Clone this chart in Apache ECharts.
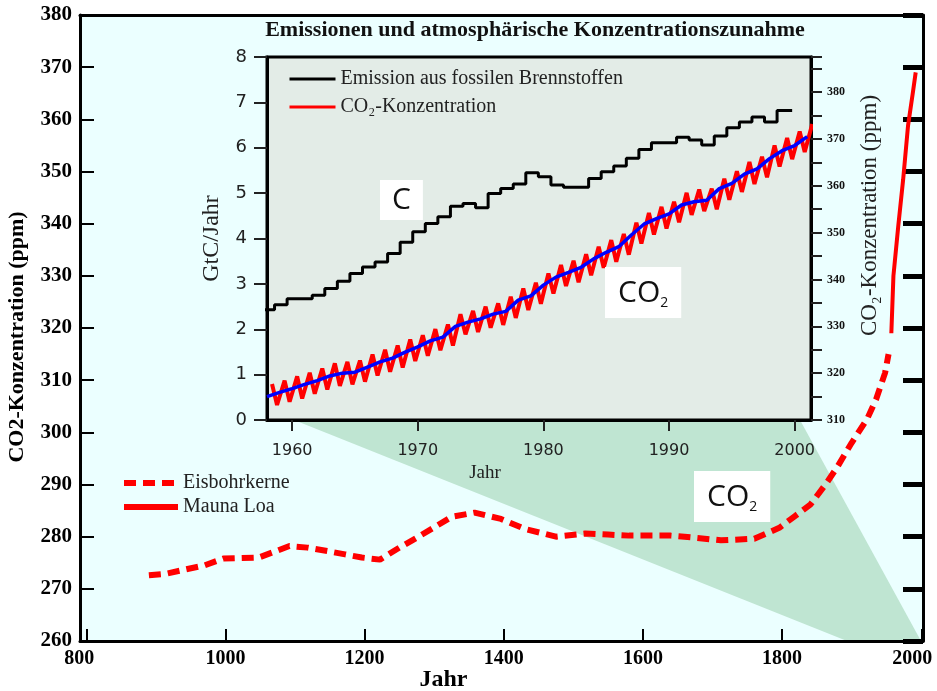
<!DOCTYPE html>
<html><head><meta charset="utf-8">
<script src="https://cdn.jsdelivr.net/npm/echarts@6/dist/echarts.min.js"></script>
<style>html,body{margin:0;padding:0;background:#fff}#c{width:937px;height:691px}</style>
</head><body><div id="c"></div><script>
// ---- Main chart: ice cores + Mauna Loa ----
const iceYears = [890, 915, 942, 970, 997, 1048, 1092, 1118, 1148, 1172, 1196, 1222, 1250, 1275, 1299, 1325, 1358, 1396, 1430, 1475, 1517, 1550, 1580, 1613, 1640, 1675, 1712, 1760, 1796, 1818, 1841, 1864, 1880, 1900, 1922, 1935, 1948, 1953];
const iceCO2 = [272.6, 272.9, 273.7, 274.5, 275.8, 276.0, 278.2, 277.9, 277.2, 276.6, 276.0, 275.6, 277.9, 279.8, 281.7, 283.8, 284.6, 283.4, 281.5, 280.0, 280.6, 280.4, 280.2, 280.2, 280.2, 279.8, 279.3, 279.6, 281.7, 283.9, 286.2, 290.3, 293.5, 298.0, 302.5, 306.3, 311.4, 315.0];
const mlYears = [1957, 1960, 1967, 1974, 1981, 1988, 1992];
const mlCO2 = [319.0, 330.0, 339.6, 348.5, 358.8, 365.2, 369.0];
const mainXTicks = [800, 1000, 1200, 1400, 1600, 1800, 2000];

// ---- Inset: emissions (GtC/Jahr), annual ----
const emisYears = [1958,1959,1960,1961,1962,1963,1964,1965,1966,1967,1968,1969,1970,1971,1972,1973,1974,1975,1976,1977,1978,1979,1980,1981,1982,1983,1984,1985,1986,1987,1988,1989,1990,1991,1992,1993,1994,1995,1996,1997,1998,1999];
const emisValues = [2.43,2.54,2.67,2.67,2.75,2.90,3.06,3.23,3.37,3.48,3.67,3.92,4.15,4.33,4.48,4.71,4.77,4.68,4.99,5.10,5.20,5.45,5.36,5.18,5.13,5.13,5.32,5.47,5.60,5.77,5.96,6.11,6.11,6.23,6.17,6.06,6.26,6.44,6.57,6.68,6.57,6.82];

// ---- Inset: CO2 concentration (ppm) ----
const trendYears = [1958,1959,1960,1961,1962,1963,1964,1965,1966,1967,1968,1969,1970,1971,1972,1973,1974,1975,1976,1977,1978,1979,1980,1981,1982,1983,1984,1985,1986,1987,1988,1989,1990,1991,1992,1993,1994,1995,1996,1997,1998,1999,2000,2001];
const trendValues = [315.0,315.9,316.7,317.6,318.4,319.4,320.0,320.2,321.3,322.4,323.2,324.5,325.6,326.9,327.7,330.0,330.9,331.6,332.6,333.2,335.6,336.5,338.8,340.5,341.5,342.6,344.4,345.8,347.0,349.5,351.8,353.0,354.0,355.9,356.6,356.9,359.4,360.5,362.5,363.6,365.8,367.5,368.6,370.5];
const seasonPeaks = [317.7,318.4,319.3,320.1,321.0,322.1,322.4,322.7,324.0,325.0,325.9,327.2,328.1,329.4,330.4,332.6,333.3,334.2,334.9,336.3,338.1,339.3,341.3,343.1,344.0,345.4,347.0,348.4,349.7,352.1,354.2,355.5,356.6,358.5,359.2,359.4,361.5,363.1,365.1,366.2,368.6,370.2,371.6,373.2];
const seasonTroughs = [313.2,313.9,314.6,315.6,316.5,317.3,317.6,318.2,319.5,320.3,321.2,322.6,323.7,324.9,325.9,328.3,328.8,329.7,330.3,331.8,333.5,334.8,337.0,338.6,339.4,340.9,342.5,343.8,345.3,347.7,349.6,350.9,352.2,353.8,354.6,355.0,357.0,358.7,360.4,361.8,364.1,365.7,367.2];
const insetXTicks = [1960, 1970, 1980, 1990, 2000];

// ---- build series data ----
const iceData = iceYears.map((y, i) => [y, iceCO2[i]]);
const mlData = mlYears.map((y, i) => [y, mlCO2[i]]);
const emisData = emisYears.map((y, i) => [y - 0.4, emisValues[i]]);
emisData.push([emisYears[emisYears.length - 1] + 0.8, emisValues[emisValues.length - 1]]);
const trendData = trendYears.map((y, i) => [y, trendValues[i]]);
const seasonData = [];
trendYears.forEach((y, i) => {
  if (seasonPeaks[i] !== undefined) seasonData.push([y + 0.4, seasonPeaks[i]]);
  if (seasonTroughs[i] !== undefined) seasonData.push([y + 0.8, seasonTroughs[i]]);
});

const SERIF = "'Liberation Serif','DejaVu Serif',serif";
const SANS = "'DejaVu Sans','Liberation Sans',sans-serif";
const plain = v => String(v);
const mainXLabel = v => {
  if (v === mainXTicks[0]) return '{l|' + v + '}';
  if (v === mainXTicks[mainXTicks.length - 1]) return '{r|' + v + '}';
  return String(v);
};

const chart = echarts.init(document.getElementById('c'), null, {renderer: 'canvas'});
chart.setOption({
  backgroundColor: '#ffffff',
  animation: false,
  grid: [
    {left: 80, right: 14, top: 15, bottom: 50, outerBoundsMode: 'none', containLabel: false},
    {left: 267, right: 126, top: 57, bottom: 271, outerBoundsMode: 'none', containLabel: false,
     show: true, backgroundColor: '#e3ece7', borderColor: '#000', borderWidth: 3}
  ],
  xAxis: [
    {type: 'value', gridIndex: 0, min: 791, max: 2002.5,
     name: 'Jahr', nameLocation: 'middle', nameGap: 27, nameMoveOverlap: false,
     nameTextStyle: {fontFamily: SERIF, fontWeight: 'bold', fontSize: 24, color: '#000', padding: [0, 116, 0, 0]},
     axisLine: {lineStyle: {color: '#000', width: 3}},
     axisTick: {inside: true, length: 12, lineStyle: {color: '#000', width: 2}, customValues: mainXTicks},
     axisLabel: {customValues: mainXTicks, formatter: mainXLabel, margin: 8, fontFamily: SERIF, fontWeight: 'bold', fontSize: 20, color: '#000',
                 rich: {l: {fontFamily: SERIF, fontWeight: 'bold', fontSize: 20, color: '#000', padding: [0, 14, 0, 0]},
                        r: {fontFamily: SERIF, fontWeight: 'bold', fontSize: 20, color: '#000', padding: [0, 18, 0, 0]}}},
     splitLine: {show: false}},
    {type: 'value', gridIndex: 0, position: 'top', min: 791, max: 2002.5,
     axisLine: {lineStyle: {color: '#000', width: 3}}, axisTick: {show: false}, axisLabel: {show: false}, splitLine: {show: false}},
    {type: 'value', gridIndex: 1, min: 1958, max: 2001.3,
     name: 'Jahr', nameLocation: 'middle', nameGap: 30,
     nameTextStyle: {fontFamily: SERIF, fontSize: 19, color: '#222', padding: [0, 108, 0, 0]},
     axisLine: {lineStyle: {color: '#000', width: 3}},
     axisTick: {length: 11, lineStyle: {color: '#222', width: 2}, customValues: insetXTicks},
     axisLabel: {customValues: insetXTicks, formatter: plain, margin: 23, fontFamily: SANS, fontSize: 16, color: '#222'},
     splitLine: {show: false}}
  ],
  yAxis: [
    {type: 'value', gridIndex: 0, min: 260, max: 380, interval: 10,
     name: 'CO2-Konzentration (ppm)', nameLocation: 'middle', nameGap: 52, nameRotate: 90,
     nameTextStyle: {fontFamily: SERIF, fontWeight: 'bold', fontSize: 22, color: '#000', padding: [0, 18, 0, 0]},
     axisLine: {lineStyle: {color: '#000', width: 3}},
     axisTick: {inside: true, length: 14, lineStyle: {color: '#000', width: 2}},
     axisLabel: {formatter: plain, margin: 8, fontFamily: SERIF, fontWeight: 'bold', fontSize: 21, color: '#000'},
     splitLine: {show: false}},
    {type: 'value', gridIndex: 0, position: 'right', min: 260, max: 380, interval: 10,
     axisLine: {lineStyle: {color: '#000', width: 3}},
     axisTick: {inside: true, length: 20, lineStyle: {color: '#000', width: 5}},
     axisLabel: {show: false}, splitLine: {show: false}},
    {type: 'value', gridIndex: 1, min: 0, max: 8, interval: 1,
     name: 'GtC/Jahr', nameLocation: 'middle', nameGap: 43, nameRotate: 90,
     nameTextStyle: {fontFamily: SERIF, fontSize: 24, color: '#222'},
     axisLine: {lineStyle: {color: '#000', width: 3}},
     axisTick: {length: 13, lineStyle: {color: '#222', width: 2}},
     axisLabel: {margin: 20, fontFamily: SANS, fontSize: 18, color: '#222'},
     splitLine: {show: false}},
    {type: 'value', gridIndex: 1, position: 'right', min: 310, max: 387.5, interval: 10,
     name: 'CO\u2082-Konzentration (ppm)', nameLocation: 'middle', nameGap: 47, nameRotate: 90,
     nameTextStyle: {fontFamily: SERIF, fontSize: 23, color: '#222', padding: [0, 0, 0, 46]},
     axisLine: {lineStyle: {color: '#000', width: 3}},
     axisTick: {length: 11, lineStyle: {color: '#222', width: 2}},
     minorTick: {show: true, splitNumber: 2, length: 11, lineStyle: {color: '#222', width: 2}},
     axisLabel: {margin: 16, showMaxLabel: false, fontFamily: SERIF, fontWeight: 'bold', fontSize: 12, color: '#111'},
     splitLine: {show: false}, minorSplitLine: {show: false}}
  ],
  legend: [
    {data: ['Eisbohrkerne', 'Mauna Loa'], orient: 'vertical', left: 116, top: 468,
     itemWidth: 54, itemHeight: 14, itemGap: 4,
     itemStyle: {color: 'transparent', borderWidth: 0}, lineStyle: {width: 6},
     textStyle: {fontFamily: SERIF, fontSize: 20, color: '#222'}},
    {data: ['Emission aus fossilen Brennstoffen', 'CO\u2082-Konzentration'], orient: 'vertical', left: 283, top: 64,
     itemWidth: 46, itemHeight: 14, itemGap: 8,
     itemStyle: {color: 'transparent', borderWidth: 0}, lineStyle: {width: 3},
     textStyle: {fontFamily: SERIF, fontSize: 20, color: '#222'}}
  ],
  graphic: [
    {type: 'rect', z: -10, silent: true, shape: {x: 80, y: 14, width: 843, height: 628}, style: {fill: '#ebffff'}},
    {type: 'polygon', z: -9, silent: true, shape: {points: [[294, 420], [800, 420], [921, 641], [847, 641]]}, style: {fill: '#bfe5d2'}},
    {type: 'text', z: 100, x: 535, y: 30,
     style: {text: 'Emissionen und atmosphärische Konzentrationszunahme', textAlign: 'center', textVerticalAlign: 'middle',
             font: "bold 22px 'Liberation Serif'", fill: '#111'}},
    {type: 'text', z: 100, x: 380, y: 180,
     style: {text: 'C', font: "30px 'Open Sans'", fill: '#111', backgroundColor: '#fff', padding: [3, 12, 3, 12], lineHeight: 34}},
    {type: 'text', z: 100, x: 605, y: 267,
     style: {text: '{a|CO}{b|2}', backgroundColor: '#fff', padding: [9, 13, 8, 13],
             rich: {a: {font: "30px 'Open Sans'", fill: '#111', lineHeight: 34}, b: {font: "14px 'Open Sans'", fill: '#111', lineHeight: 34, verticalAlign: 'bottom'}}}},
    {type: 'text', z: 100, x: 694, y: 471,
     style: {text: '{a|CO}{b|2}', backgroundColor: '#fff', padding: [9, 13, 8, 13],
             rich: {a: {font: "30px 'Open Sans'", fill: '#111', lineHeight: 34}, b: {font: "14px 'Open Sans'", fill: '#111', lineHeight: 34, verticalAlign: 'bottom'}}}}
  ],
  series: [
    {name: 'Eisbohrkerne', type: 'line', xAxisIndex: 0, yAxisIndex: 0, data: iceData, symbol: 'none', z: 3,
     lineStyle: {color: '#ff0000', width: 6, type: [12, 7]}, itemStyle: {color: '#ff0000'}},
    {name: 'Mauna Loa', type: 'line', xAxisIndex: 0, yAxisIndex: 0, data: mlData, symbol: 'none', z: 3,
     lineStyle: {color: '#ff0000', width: 4}, itemStyle: {color: '#ff0000'}},
    {name: 'Emission aus fossilen Brennstoffen', type: 'line', xAxisIndex: 2, yAxisIndex: 2, data: emisData, step: 'end', symbol: 'none', z: 4,
     lineStyle: {color: '#000', width: 3}, itemStyle: {color: '#000'}},
    {name: 'CO\u2082-Konzentration', type: 'line', xAxisIndex: 2, yAxisIndex: 3, data: seasonData, symbol: 'none', z: 4,
     lineStyle: {color: '#ff0000', width: 4}, itemStyle: {color: '#ff0000'}},
    {name: 'Trend', type: 'line', xAxisIndex: 2, yAxisIndex: 3, data: trendData, symbol: 'none', z: 5,
     lineStyle: {color: '#0000ff', width: 3.5}, itemStyle: {color: '#0000ff'}}
  ]
});
</script></body></html>
